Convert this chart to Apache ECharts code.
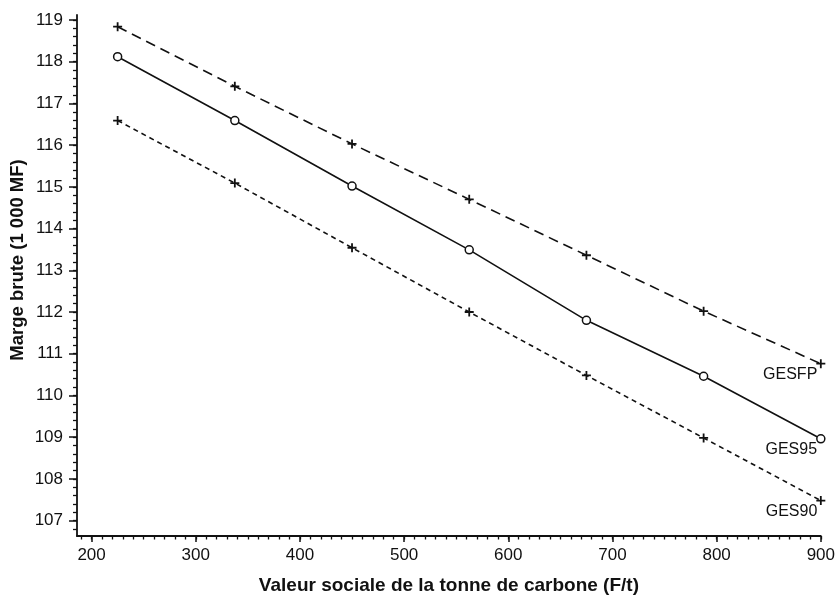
<!DOCTYPE html>
<html>
<head>
<meta charset="utf-8">
<script src="https://cdn.jsdelivr.net/npm/echarts@6/dist/echarts.min.js"></script>
<style>
html,body{margin:0;padding:0;background:#fff;}
#chart{width:838px;height:600px;}
</style>
</head>
<body>
<div id="chart"></div>
<script>
// ---- data ----
const xValues = [225, 337.5, 450, 562.5, 675, 787.5, 900];
const gesfp = [118.84, 117.41, 116.03, 114.70, 113.36, 112.02, 110.76];
const ges95 = [118.12, 116.59, 115.02, 113.49, 111.80, 110.46, 108.96];
const ges90 = [116.59, 115.09, 113.54, 112.00, 110.48, 108.98, 107.48];
const seriesNames = ['GESFP', 'GES95', 'GES90'];
const xTickLabels = [200, 300, 400, 500, 600, 700, 800, 900];
const yTickLabels = [107, 108, 109, 110, 111, 112, 113, 114, 115, 116, 117, 118, 119];

// minor tick positions (axis decoration)
const xMinor = [];
for (let v = 190; v <= 900; v += 10) xMinor.push(v);
const yMinor = [];
for (let i = 534; i <= 595; i++) yMinor.push(Math.round(i * 20) / 100);

const FONT = 'Liberation Sans, Arial, Helvetica, sans-serif';
const INK = '#111';
const X_MIN = 186, X_MAX = 900, Y_MIN = 106.63, Y_MAX = 119.12;

function pairs(ys, name) {
  return ys.map((y, i) => {
    if (i === ys.length - 1) {
      return {
        value: [xValues[i], y],
        label: {
          show: true, formatter: name, position: 'left', distance: 3, offset: [4, 11],
          color: INK, fontFamily: FONT, fontSize: 16
        }
      };
    }
    return [xValues[i], y];
  });
}

const plusPath = 'path://M4,0h2v4h4v2h-4v4h-2v-4h-4v-2h4z';

const chart = echarts.init(document.getElementById('chart'), null, {renderer: 'canvas'});
chart.setOption({
  animation: false,
  backgroundColor: '#fff',
  grid: {left: 77, right: 11, top: 15, bottom: 58, containLabel: false},
  xAxis: [{
    type: 'value', min: X_MIN, max: X_MAX,
    name: 'Valeur sociale de la tonne de carbone (F/t)',
    nameLocation: 'middle', nameGap: 40,
    nameTextStyle: {fontFamily: FONT, fontSize: 19, fontWeight: 'bold', color: INK},
    axisLine: {show: true, onZero: false, lineStyle: {color: INK, width: 1.8}},
    axisTick: {show: true, customValues: xTickLabels, length: 6, lineStyle: {color: INK, width: 1.5}},
    axisLabel: {show: true, customValues: xTickLabels, margin: 11, color: INK, fontFamily: FONT, fontSize: 17},
    splitLine: {show: false}
  }, {
    type: 'value', min: X_MIN, max: X_MAX, position: 'bottom',
    axisLine: {show: false},
    axisTick: {show: true, customValues: xMinor, length: 3.5, lineStyle: {color: INK, width: 1.3}},
    axisLabel: {show: false},
    splitLine: {show: false}
  }],
  yAxis: [{
    type: 'value', min: Y_MIN, max: Y_MAX,
    axisLine: {show: true, onZero: false, lineStyle: {color: INK, width: 1.8}},
    axisTick: {show: true, customValues: yTickLabels, length: 8, lineStyle: {color: INK, width: 1.5}},
    axisLabel: {show: true, customValues: yTickLabels, margin: 14, color: INK, fontFamily: FONT, fontSize: 17},
    splitLine: {show: false}
  }, {
    type: 'value', min: Y_MIN, max: Y_MAX, position: 'left',
    axisLine: {show: false},
    axisTick: {show: true, customValues: yMinor, length: 4, lineStyle: {color: INK, width: 1.3}},
    axisLabel: {show: false},
    splitLine: {show: false}
  }],
  graphic: [{
    type: 'text',
    style: {
      text: 'Marge brute (1 000 MF)', fill: INK, font: 'bold 18.5px ' + FONT,
      textAlign: 'center', textVerticalAlign: 'middle'
    },
    rotation: Math.PI / 2, x: 17.5, y: 260
  }],
  series: [{
    name: seriesNames[0], type: 'line', data: pairs(gesfp, seriesNames[0]),
    symbol: plusPath, symbolSize: 9,
    itemStyle: {color: INK},
    lineStyle: {color: INK, width: 1.6, type: [10, 6]},
    z: 3
  }, {
    name: seriesNames[1], type: 'line', data: pairs(ges95, seriesNames[1]),
    symbol: 'circle', symbolSize: 8,
    itemStyle: {color: '#fff', borderColor: INK, borderWidth: 1.5},
    lineStyle: {color: INK, width: 1.6, type: 'solid'},
    z: 3
  }, {
    name: seriesNames[2], type: 'line', data: pairs(ges90, seriesNames[2]),
    symbol: plusPath, symbolSize: 9,
    itemStyle: {color: INK},
    lineStyle: {color: INK, width: 1.6, type: [5, 4]},
    z: 3
  }]
});
</script>
</body>
</html>
